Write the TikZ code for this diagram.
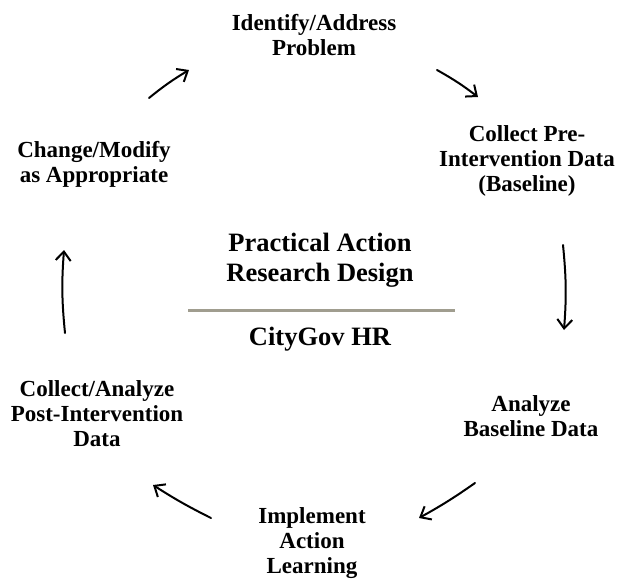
\documentclass[tikz,border=0pt]{standalone}
\usepackage{fontspec}
\setmainfont{Liberation Serif}
\usetikzlibrary{arrows.meta}
\definecolor{rulegray}{RGB}{160,157,143}
\begin{document}
\begin{tikzpicture}[x=1pt,y=-1pt,
  steplabel/.style={align=center,inner sep=0pt,font=\fontsize{23}{25}\selectfont\bfseries},
  titlelabel/.style={align=center,inner sep=0pt,font=\fontsize{26.5}{29.5}\selectfont\bfseries},
  cyclearrow/.style={line width=2pt,line cap=round,
    -{Straight Barb[length=9pt,width=15pt,line width=2pt]}}]
\useasboundingbox (0,0) rectangle (619,579);

% cycle stages
\node[steplabel] (problem) at (314,35) {Identify/Address\\Problem};
\node[steplabel] (preint) at (527,161) {Collect Pre-\\Intervention Data\\(Baseline)};
\node[steplabel] (analyze) at (531,416) {Analyze\\Baseline Data};
\node[steplabel] (implement) at (312,543) {Implement\\Action\\Learning};
\node[steplabel] (postint) at (97,414) {Collect/Analyze\\Post-Intervention\\Data};
\node[steplabel] (modify) at (94,164) {Change/Modify\\as Appropriate};

% centre title
\node[titlelabel] (title) at (320,260) {Practical Action\\Research Design};
\coordinate (ruleL) at (188,310);
\coordinate (ruleR) at (455,310);
\draw[rulegray,line width=3pt] (ruleL) -- (ruleR);
\node[titlelabel] (org) at (320,339) {CityGov HR};

% arrow end points
\coordinate (a1s) at (149,98);  \coordinate (a1e) at (189,70);
\coordinate (a2s) at (437,70);  \coordinate (a2e) at (478,97);
\coordinate (a3s) at (563,245); \coordinate (a3e) at (564,330);
\coordinate (a4s) at (475,483); \coordinate (a4e) at (419,518);
\coordinate (a5s) at (211,518); \coordinate (a5e) at (153,485);
\coordinate (a6s) at (65,333);  \coordinate (a6e) at (64,250);

\draw[cyclearrow] (a1s) to[bend left=4] (a1e);
\draw[cyclearrow] (a2s) to[bend left=4] (a2e);
\draw[cyclearrow] (a3s) to[bend left=5] (a3e);
\draw[cyclearrow] (a4s) to[bend left=3] (a4e);
\draw[cyclearrow] (a5s) to[bend left=3] (a5e);
\draw[cyclearrow] (a6s) to[bend left=5] (a6e);
\end{tikzpicture}
\end{document}
